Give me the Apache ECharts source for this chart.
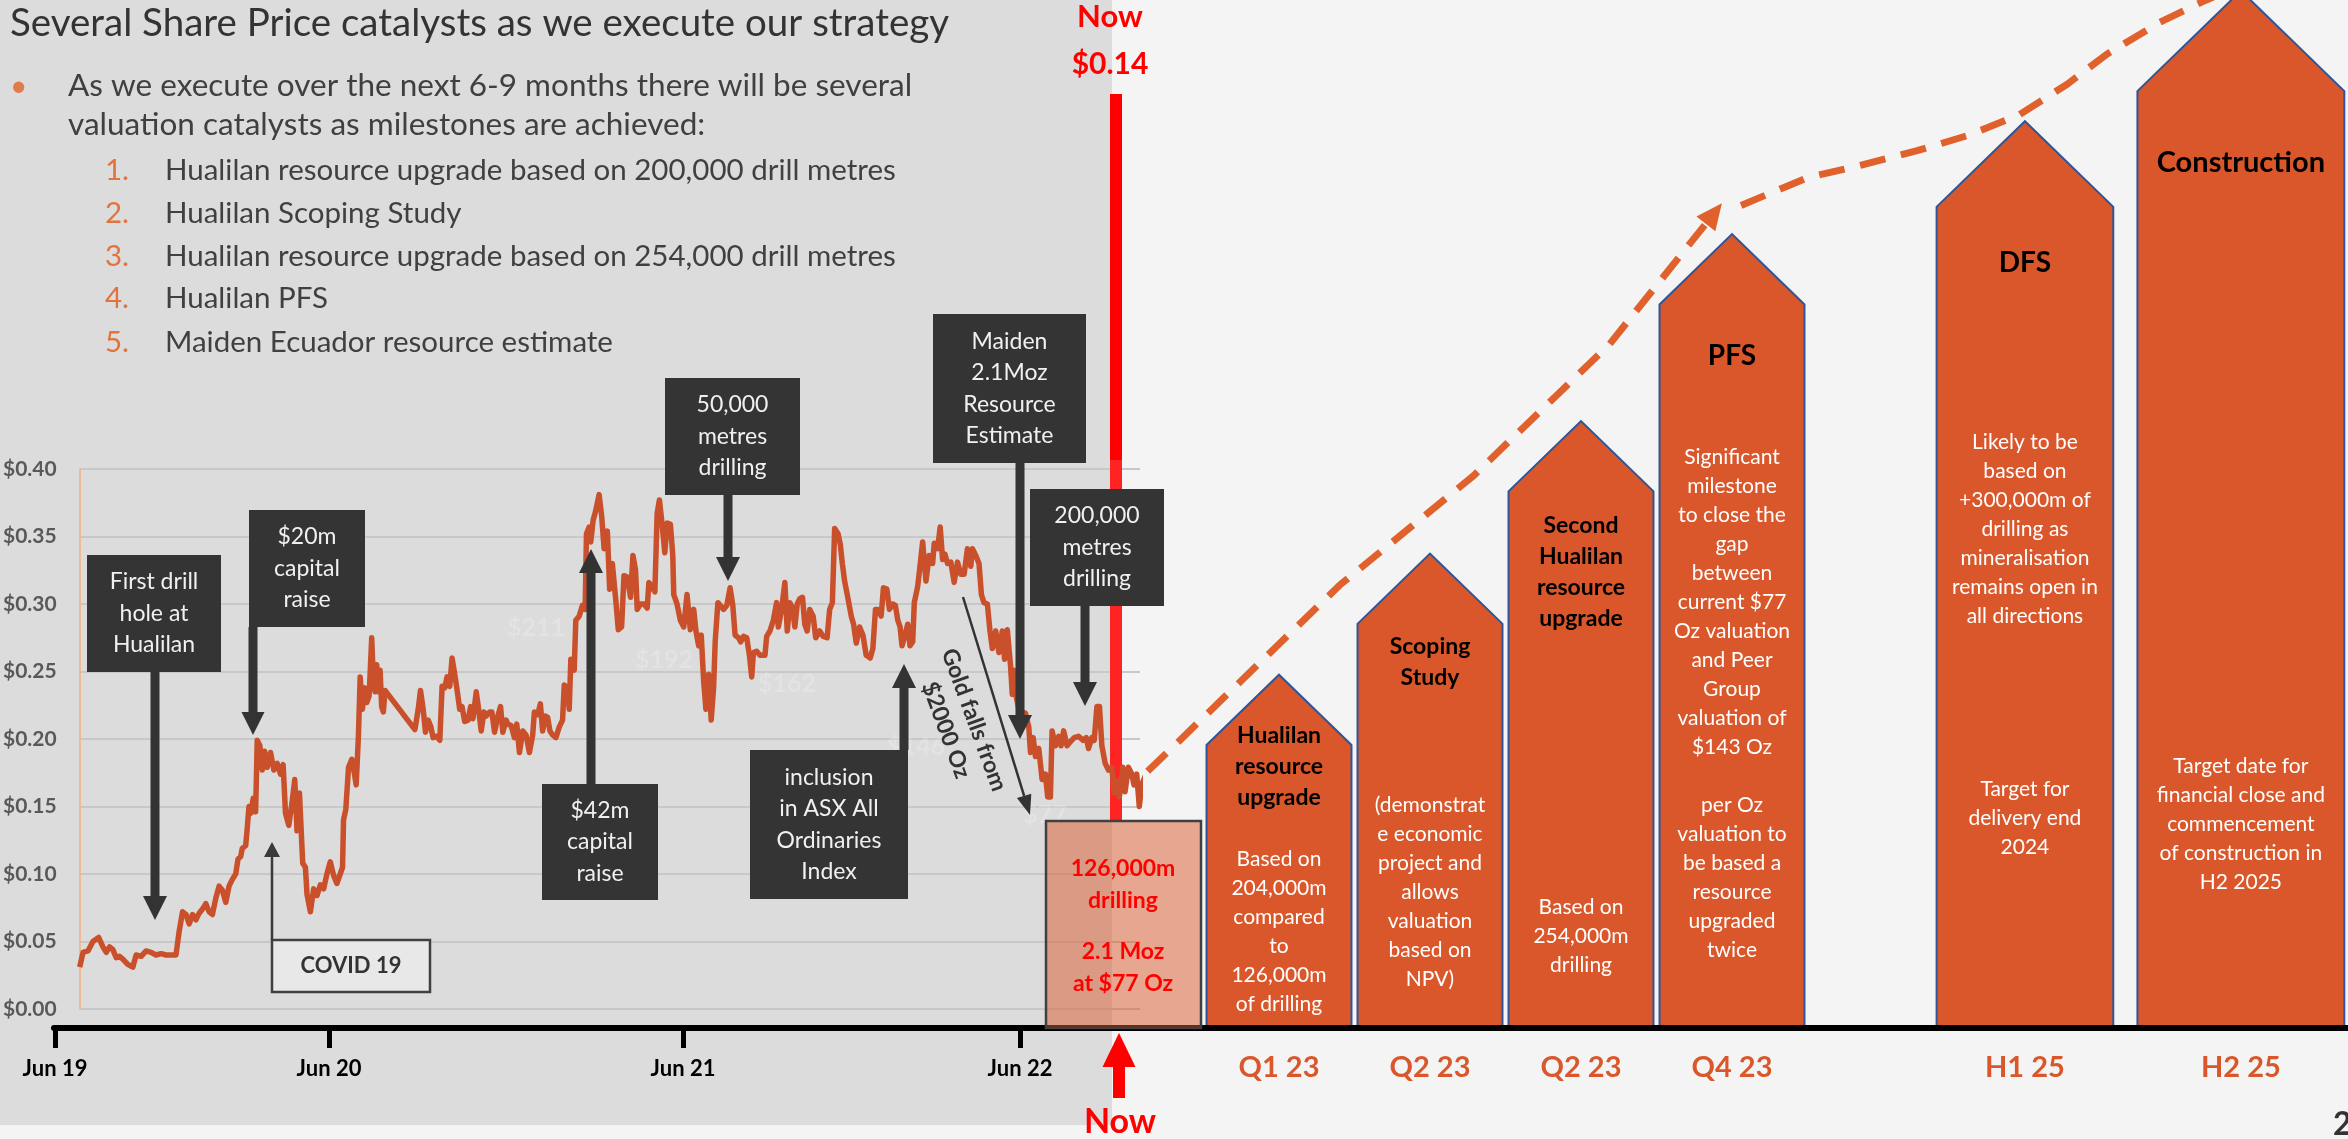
<!DOCTYPE html>
<html><head><meta charset="utf-8">
<script src="https://cdn.jsdelivr.net/npm/echarts@6/dist/echarts.min.js"></script>
<style>html,body{margin:0;padding:0;background:#f4f4f4;overflow:hidden}#c{width:2348px;height:1139px}</style>
</head><body><div id="c"></div>
<script>
// ================= DATA =================
// share price (session index along the chart, A$ price)
const sharePrice = [
[0,.031],[3.3,.042],[8.3,.043],[13.3,.050],[19,.053],[23.3,.046],[26.7,.042],[30,.046],[33.3,.044],[36.7,.038],[40,.039],[43.3,.037],[48.3,.033],[53.3,.031],[56.7,.040],[61.7,.039],[66.7,.043],[71.7,.042],[76.7,.040],[81.7,.041],[86.7,.040],[91.7,.040],[96.7,.040],[100,.058],[103.3,.072],[106.7,.070],[110,.063],[113.3,.070],[116.7,.066],[120,.071],[123.3,.074],[126.7,.078],[130,.072],[133.3,.070],[136.7,.082],[140,.091],[143.3,.088],[146.7,.079],[150,.091],[153.3,.096],[156.7,.100],[159,.111],[161.7,.113],[163.3,.119],[166.7,.121],[168.3,.134],[170,.150],[171.7,.145],[174.3,.156],[176.7,.146],[178.3,.199],[181,.195],[183.3,.177],[185.7,.191],[188.3,.179],[191.7,.190],[195,.177],[198.3,.182],[201.7,.174],[204.3,.181],[206.7,.145],[210,.136],
[213.3,.153],[216,.170],[218.3,.132],[220.7,.160],[222.7,.161],[224,.108],[226.7,.105],[228.3,.085],[231.7,.072],[235,.089],[238.3,.084],[241.7,.092],[245,.089],[248.3,.100],[251.7,.109],[255,.099],[258.3,.093],[261.7,.100],[264,.105],[265,.140],[267.3,.148],[270,.179],[273.3,.185],[276,.174],[277.7,.166],[280,.203],[281.7,.246],[284,.222],[286,.238],[288.3,.227],[290.7,.232],[293.3,.275],[295,.243],[296.7,.235],[298.3,.255],[300,.235],[301.7,.251],[303.3,.224],[305,.220],[306.7,.236],[336.7,.207],[340,.222],[342.3,.236],[345,.222],[347.3,.205],[350,.214],[352.7,.209],[355,.201],[358.3,.202],[361.7,.199],[364,.239],[366.7,.238],[369,.246],[371.7,.239],[374,.260],[376.7,.248],[379.3,.235],[381.7,.222],[384,.224],[386.7,.213],[390,.214],[392.7,.224],[395,.215],[398.3,.235],[400.7,.222],[403.3,.206],[406,.220],[408.3,.217],[411.7,.220],[414,.220],[416.7,.205],[420,.217],[422.7,.224],[425,.205],[428.3,.214],
[430,.211],[433.3,.210],[436.7,.201],[439,.211],[441.7,.190],[445,.206],[448.3,.203],[451.7,.190],[455,.203],[456.7,.220],[460,.218],[462.7,.226],[465,.206],[467.7,.217],[470,.216],[472.3,.206],[475,.203],[478.3,.201],[481.7,.209],[485,.214],[486.7,.240],[490,.238],[491.7,.222],[493.3,.259],[496.7,.251],[498.3,.288],[501.7,.291],[505,.299],[507.7,.296],[509,.352],[511.7,.357],[513.3,.346],[515.7,.362],[518.3,.369],[521.7,.381],[524.3,.365],[526.7,.341],[530,.354],[532.3,.311],[535,.330],[538.3,.304],[541,.281],[544.3,.283],[546.7,.321],[550,.320],[553.3,.305],[555.7,.336],[558.3,.325],[560,.296],[563.3,.300],[566.7,.300],[570,.297],[571.7,.316],[575,.312],[577.7,.309],[580,.367],[582.3,.377],[585,.359],[587.7,.338],[590,.360],[593.3,.359],[595.7,.336],[596.7,.307],[600,.300],[603.3,.288],[606.7,.283],[610,.307],[613.3,.281],[616.7,.296],[619,.280],[621.7,.269],[624.3,.277],[626.7,.243],[629,.222],[631.7,.248],[634.3,.214],[636.7,.238],[638.3,.272],[641,.301],
[643.3,.299],[646.7,.296],[650,.299],[653.3,.312],[656,.299],[658.3,.277],[661.7,.275],[664,.272],[666.7,.276],[670,.275],[672.7,.262],[675,.246],[676.7,.264],[680,.265],[683.3,.262],[688.3,.262],[690,.276],[693.3,.280],[696.7,.288],[700,.301],[701.7,.283],[705,.296],[708.3,.316],[710.7,.280],[713.3,.301],[716,.297],[718.3,.283],[720.7,.300],[723.3,.304],[726,.305],[728.3,.285],[730.7,.280],[733.3,.296],[736.7,.291],[739.3,.275],[743.3,.280],[746.7,.276],[750.7,.275],[753.3,.296],[756,.301],[758.3,.356],[761.7,.352],[764,.344],[766,.330],[768.3,.317],[771.7,.304],[775,.291],[777.3,.285],[780,.271],[783.3,.283],[786.7,.277],[790,.262],[794,.260],[796.7,.267],[799.3,.296],[801.7,.296],[805,.291],[807.3,.312],[810.7,.311],[813.3,.296],[816.7,.300],[819.3,.299],[821.7,.288],[824,.283],[826,.269],[828.3,.275],[831.7,.285],[834,.269],[836.7,.272],[838.3,.301],[841.7,.313],[844,.328],[846.7,.346],[850,.317],[853.3,.336],[856.7,.330],
[858.3,.345],[861.7,.341],[864.3,.357],[866.7,.333],[869,.337],[871.7,.330],[875,.331],[878.3,.316],[881.7,.331],[885,.322],[888.3,.322],[891.7,.341],[895,.328],[896.7,.341],[900,.336],[903.3,.330],[905.7,.307],[908.3,.301],[911.7,.300],[914.3,.280],[916.7,.267],[920,.280],[923.3,.264],[926.7,.280],[929,.259],[931.7,.281],[935,.254],[936.7,.233],[938.3,.251],[941,.230],[943.3,.222],[946.7,.220],[950,.219],[953.3,.209],[955,.190],[957.7,.201],[960,.187],[963.3,.193],[966.7,.170],[970,.174],[972.3,.157],[975,.157],[976.7,.206],[980,.195],[983.3,.202],[985.7,.195],[988.3,.206],[991.7,.195],[995,.198],[999,.201],[1003.3,.202],[1007.7,.199],[1011,.201],[1013.3,.193],[1016.7,.201],[1019,.199],[1021.7,.224],[1024.3,.224],[1026.7,.195],[1030,.182],[1033.3,.177],[1036.7,.179],[1039,.160],[1041.7,.169],[1044.3,.157],[1047.7,.179],[1050,.161],[1053.3,.179],[1056.7,.174],[1059,.166],[1061.7,.174],[1064.3,.150],[1066.7,.166],[1070,.172],[1073.3,.177]
];
const priceTicks = [0, 0.05, 0.10, 0.15, 0.20, 0.25, 0.30, 0.35, 0.40];
const dateTickLabels = ['Jun 19', 'Jun 20', 'Jun 21', 'Jun 22'];
const dateTickSession = [-20, 254, 608, 945];
const goldPriceMarks = ['$211', '$192', '$162', '$146', '$77', '$38'];

const milestoneQuarters = ['Q1 23', 'Q2 23', 'Q2 23', 'Q4 23', 'H1 25', 'H2 25'];
const milestoneTitles = ['Hualilan\nresource\nupgrade', 'Scoping\nStudy', 'Second\nHualilan\nresource\nupgrade', 'PFS', 'DFS', 'Construction'];
const milestoneNotes = [
  ['Based on\n204,000m\ncompared\nto\n126,000m\nof drilling'],
  ['(demonstrat\ne economic\nproject and\nallows\nvaluation\nbased on\nNPV)'],
  ['Based on\n254,000m\ndrilling'],
  ['Significant\nmilestone\nto close the\ngap\nbetween\ncurrent $77\nOz valuation\nand Peer\nGroup\nvaluation of\n$143 Oz\n \nper Oz\nvaluation to\nbe based a\nresource\nupgraded\ntwice'],
  ['Likely to be\nbased on\n+300,000m of\ndrilling as\nmineralisation\nremains open in\nall directions', 'Target for\ndelivery end\n2024'],
  ['Target date for\nfinancial close and\ncommencement\nof construction in\nH2 2025']
];
const milestoneLevels = [34.3, 46.1, 59.0, 77.2, 88.2, 100.9];
const trendToPFS = [[0.13, 24.9], [0.30, 27.3], [1.40, 43.0], [2.29, 53.7], [3.19, 66.5], [3.88, 79.2]];
const trendBeyond = [[4.06, 80.0], [4.50, 82.7], [4.85, 83.9], [5.22, 85.3], [5.56, 86.8], [5.90, 88.8], [6.22, 91.8], [6.48, 94.7], [6.83, 97.8], [7.11, 99.8], [7.30, 101.0]];

// ================= LAYOUT =================
const FF = 'Lato, "Open Sans", "Noto Sans", sans-serif';
const ORANGE = '#d9572a';
const SLOT_POS = [1, 2, 3, 4, 5.94, 7.37];
const SLOT_W = [0.96, 0.96, 0.96, 0.96, 1.17, 1.37];
const TITLE_Y = [767, 662, 572, 356, 263, 163];
const TITLE_SIZE = [23, 23, 23, 28, 28, 29];
const NOTE_Y = [[932], [892], [936], [704], [529, 818], [824]];
const GOLD_POS = [[536, 628], [664, 660], [787, 684], [916, 747], [1045, 815], [1176, 908]];

const chart = echarts.init(document.getElementById('c'), null, {renderer: 'canvas', width: 2348, height: 1139});

const G = [];
function rect(x, y, w, h, style, z) { G.push({type: 'rect', shape: {x, y, width: w, height: h}, style, z: z == null ? 10 : z}); }
function text(x, y, t, style, z, extra) { G.push(Object.assign({type: 'text', x, y, style: Object.assign({text: t, fontFamily: FF}, style), z: z == null ? 11 : z}, extra || {})); }
function darkBox(x, y, w, h, t) {
  rect(x, y, w, h, {fill: '#343434'}, 10);
  text(x + w / 2, y + h / 2, t, {fill: '#f0f0f0', fontSize: 23, lineHeight: 31.5, align: 'center', verticalAlign: 'middle'}, 11);
}
function vArrow(cx, yFrom, yTip, shaftW, headW, headL, color) {
  const dir = yTip > yFrom ? 1 : -1;
  const yHead = yTip - dir * headL;
  rect(cx - shaftW / 2, Math.min(yFrom, yHead), shaftW, Math.abs(yHead - yFrom), {fill: color}, 10);
  G.push({type: 'polygon', shape: {points: [[cx - headW / 2, yHead], [cx + headW / 2, yHead], [cx, yTip]]}, style: {fill: color}, z: 10});
}
function thinArrow(x1, y1, x2, y2, w, headW, headL, color) {
  const a = Math.atan2(y2 - y1, x2 - x1);
  const bx = x2 - Math.cos(a) * headL, by = y2 - Math.sin(a) * headL;
  G.push({type: 'line', shape: {x1, y1, x2: bx, y2: by}, style: {stroke: color, lineWidth: w}, z: 10});
  const nx = -Math.sin(a) * headW / 2, ny = Math.cos(a) * headW / 2;
  G.push({type: 'polygon', shape: {points: [[bx + nx, by + ny], [bx - nx, by - ny], [x2, y2]]}, style: {fill: color}, z: 10});
}

// background panel
rect(0, 0, 1112, 1125, {fill: '#dcdcdc'}, -100);
// title + bullets
text(10, 24, 'Several Share Price catalysts as we execute our strategy', {fill: '#333333', fontSize: 38.5, verticalAlign: 'middle'});
text(10, 86, '•', {fill: '#e07b4f', fontSize: 30, verticalAlign: 'middle'});
text(68, 86, 'As we execute over the next 6-9 months there will be several', {fill: '#404040', fontSize: 31.5, verticalAlign: 'middle'});
text(68, 125, 'valuation catalysts as milestones are achieved:', {fill: '#404040', fontSize: 31.5, verticalAlign: 'middle'});
const items = ['Hualilan resource upgrade based on 200,000 drill metres', 'Hualilan Scoping Study', 'Hualilan resource upgrade based on 254,000 drill metres', 'Hualilan PFS', 'Maiden Ecuador resource estimate'];
const itemY = [170, 213, 256, 298, 342];
items.forEach((t, i) => {
  text(105, itemY[i], (i + 1) + '.', {fill: '#e2733f', fontSize: 29.5, verticalAlign: 'middle'});
  text(165, itemY[i], t, {fill: '#404040', fontSize: 29.5, verticalAlign: 'middle'});
});
// faint gold price marks
goldPriceMarks.forEach((t, i) => text(GOLD_POS[i][0], GOLD_POS[i][1], t, {fill: 'rgba(255,255,255,0.2)', fontSize: 25, fontWeight: 'bold', align: 'center', verticalAlign: 'middle'}, 1));
// "Now" red line
rect(1110, 94, 12, 366, {fill: '#ff0000'}, 1);
rect(1110, 460, 12, 361, {fill: '#ff2424'}, 1);
text(1110, 17, 'Now', {fill: '#ff0000', fontSize: 31, fontWeight: 'bold', align: 'center', verticalAlign: 'middle'});
text(1110, 64, '$0.14', {fill: '#ff0000', fontSize: 30, fontWeight: 'bold', align: 'center', verticalAlign: 'middle'});
vArrow(1119, 1098, 1033, 12, 33, 34, '#ff0000');
text(1120, 1122, 'Now', {fill: '#ff0000', fontSize: 34, fontWeight: 'bold', align: 'center', verticalAlign: 'middle'});
// annotation boxes & arrows
darkBox(87, 555, 134, 117, 'First drill\nhole at\nHualilan');
vArrow(155, 672, 920, 9, 24, 24, '#333333');
darkBox(249, 510, 116, 117, '$20m\ncapital\nraise');
vArrow(253, 627, 735, 9, 23, 23, '#333333');
darkBox(542, 784, 116, 116, '$42m\ncapital\nraise');
vArrow(591, 784, 549, 9, 24, 24, '#333333');
darkBox(665, 378, 135, 117, '50,000\nmetres\ndrilling');
vArrow(728, 495, 581, 9, 24, 24, '#333333');
darkBox(750, 750, 158, 149, 'inclusion\nin ASX All\nOrdinaries\nIndex');
vArrow(904, 750, 664, 9, 24, 24, '#333333');
darkBox(933, 314, 153, 149, 'Maiden\n2.1Moz\nResource\nEstimate');
vArrow(1020, 463, 739, 9, 24, 24, '#333333');
darkBox(1030, 489, 134, 117, '200,000\nmetres\ndrilling');
vArrow(1085, 606, 706, 9, 24, 24, '#333333');
rect(272, 940, 158, 52, {fill: '#e8e8e8', stroke: '#404040', lineWidth: 2.5}, 10);
text(351, 966, 'COVID 19', {fill: '#333333', fontSize: 22, fontWeight: 'bold', align: 'center', verticalAlign: 'middle'});
thinArrow(272, 940, 272, 842, 2.5, 16, 15, '#3a3a3a');
thinArrow(963, 597, 1030, 815, 2.5, 15, 20, '#333333');
text(960, 725, 'Gold falls from\n$2000 Oz', {fill: '#333333', fontSize: 23, fontWeight: 'bold', lineHeight: 30, align: 'center', verticalAlign: 'middle'}, 11, {rotation: -1.22});
// pink "now" box
rect(1046, 821, 155, 207, {fill: 'rgba(217,87,42,0.5)', stroke: '#404040', lineWidth: 2.5}, 12);
text(1123, 885, '126,000m\ndrilling', {fill: '#ff0000', fontSize: 23, fontWeight: 'bold', lineHeight: 32, align: 'center', verticalAlign: 'middle'}, 13);
text(1123, 968, '2.1 Moz\nat $77 Oz', {fill: '#ff0000', fontSize: 23, fontWeight: 'bold', lineHeight: 32, align: 'center', verticalAlign: 'middle'}, 13);
// page number
text(2333, 1125, '2', {fill: '#333333', fontSize: 32, fontWeight: 'bold', verticalAlign: 'middle'});

const option = {
  animation: false,
  backgroundColor: '#f4f4f4',
  grid: [
    {left: 75, width: 1065, top: 469, height: 540},
    {left: 54, right: 0, top: 1000, height: 28},
    {left: 1128, width: 1208, top: 0, height: 1027}
  ],
  xAxis: [
    {gridIndex: 0, type: 'value', min: 0, max: 1065, show: false},
    {gridIndex: 1, type: 'value', min: -21, max: 2273, z: 5,
      axisLine: {show: true, lineStyle: {color: '#000', width: 6}},
      axisTick: {show: true, customValues: dateTickSession, length: 20, lineStyle: {color: '#000', width: 5}},
      axisLabel: {show: true, customValues: dateTickSession, margin: 30, color: '#000', fontFamily: FF, fontWeight: 'bold', fontSize: 22,
        formatter: v => dateTickLabels[dateTickSession.indexOf(v)] || ''},
      splitLine: {show: false}},
    {gridIndex: 2, type: 'value', min: 0, max: 8,
      axisLine: {show: false}, axisTick: {show: false}, splitLine: {show: false},
      axisLabel: {show: true, customValues: SLOT_POS, margin: 26, color: ORANGE, fontFamily: FF, fontWeight: 'bold', fontSize: 29,
        formatter: v => milestoneQuarters[SLOT_POS.indexOf(v)] || ''}}
  ],
  yAxis: [
    {gridIndex: 0, type: 'value', min: 0, max: 0.4, interval: 0.05,
      axisLine: {show: true, lineStyle: {color: '#f4b183', width: 1.5}},
      axisTick: {show: false},
      axisLabel: {margin: 23, color: '#595959', fontFamily: FF, fontWeight: 'bold', fontSize: 21, formatter: v => '$' + v.toFixed(2)},
      splitLine: {show: true, lineStyle: {color: '#c8c8c8', width: 2}}},
    {gridIndex: 1, type: 'value', show: false},
    {gridIndex: 2, type: 'value', min: 0, max: 100, show: false}
  ],
  series: [
    {type: 'line', xAxisIndex: 0, yAxisIndex: 0, data: sharePrice, showSymbol: false, clip: false, z: 3,
      lineStyle: {color: '#c9502a', width: 5.5, join: 'round'}},
    {type: 'custom', xAxisIndex: 2, yAxisIndex: 2, clip: false, z: 2,
      data: milestoneLevels.map((lv, i) => [SLOT_POS[i], lv]),
      renderItem: function (params, api) {
        const i = params.dataIndex;
        const slot = api.value(0), level = api.value(1);
        const pb = api.coord([slot, 0]);
        const pt = api.coord([slot, level]);
        const hw = api.size([SLOT_W[i], 0])[0] / 2;
        const roof = hw * 0.97;
        const cx = pb[0];
        const children = [{
          type: 'polygon',
          shape: {points: [[cx - hw, pb[1]], [cx - hw, pt[1] + roof], [cx, pt[1]], [cx + hw, pt[1] + roof], [cx + hw, pb[1]]]},
          style: {fill: ORANGE, stroke: '#2f5597', lineWidth: 2}
        }, {
          type: 'text', x: cx, y: TITLE_Y[i],
          style: {text: milestoneTitles[i], fill: '#000', fontFamily: FF, fontWeight: 'bold', fontSize: TITLE_SIZE[i], lineHeight: 31, align: 'center', verticalAlign: 'middle'}
        }];
        milestoneNotes[i].forEach((n, k) => children.push({
          type: 'text', x: cx, y: NOTE_Y[i][k],
          style: {text: n, fill: '#ffffff', fontFamily: FF, fontSize: 21, lineHeight: 29, align: 'center', verticalAlign: 'middle'}
        }));
        return {type: 'group', children};
      }},
    {type: 'line', xAxisIndex: 2, yAxisIndex: 2, clip: false, z: 4, symbol: 'none',
      data: trendToPFS.map((p, i) => i === trendToPFS.length - 1 ? {value: p, symbol: 'triangle', symbolSize: [24, 26], symbolRotate: -38, itemStyle: {color: '#e0612c'}} : p),
      lineStyle: {color: '#e0612c', width: 7, type: [26, 16]}},
    {type: 'line', xAxisIndex: 2, yAxisIndex: 2, clip: false, z: 4, symbol: 'none', showSymbol: false,
      data: trendBeyond, lineStyle: {color: '#e0612c', width: 7, type: [26, 16]}}
  ],
  graphic: {elements: G}
};
chart.setOption(option);
</script>
</body></html>
